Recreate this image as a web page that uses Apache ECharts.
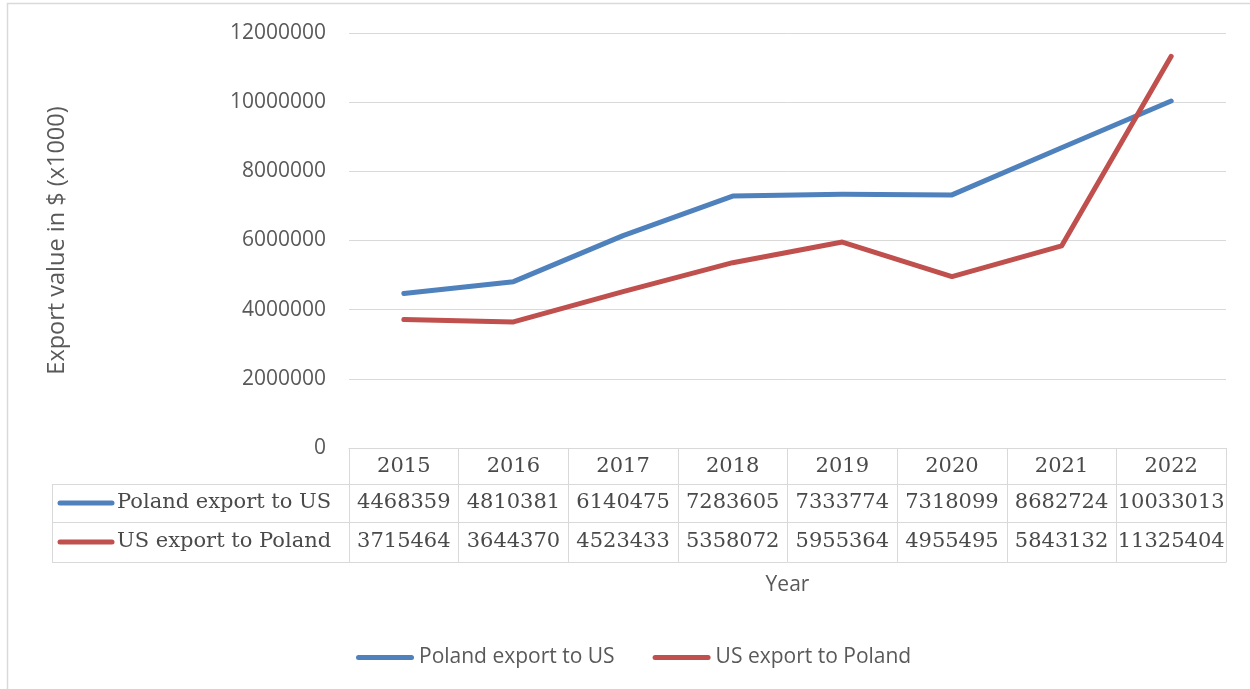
<!DOCTYPE html>
<html>
<head>
<meta charset="utf-8">
<script src="https://cdn.jsdelivr.net/npm/echarts@6/dist/echarts.min.js"></script>
<style>html,body{margin:0;padding:0;background:#fff}#c{width:1250px;height:689px}</style>
</head>
<body>
<div id="c"></div>
<script>
const years = ['2015','2016','2017','2018','2019','2020','2021','2022'];
const polandToUS = [4468359, 4810381, 6140475, 7283605, 7333774, 7318099, 8682724, 10033013];
const usToPoland = [3715464, 3644370, 4523433, 5358072, 5955364, 4955495, 5843132, 11325404];
const seriesNames = ['Poland export to US', 'US export to Poland'];
const colors = ['#4f81bd', '#c0504d'];
const yTicks = {min: 0, max: 12000000, interval: 2000000};

const chart = echarts.init(document.getElementById('c'), null, {renderer: 'canvas'});
const gridC = '#d9d9d9';
const serif = 'DejaVu Serif';
const sans = 'Open Sans';
const tableText = '#4a4a4a';
const tableLabel = {fontFamily: serif, fontSize: 21, color: tableText, interval: 0};

const linePath = 'path://M2.5,0 H55.5 A2.5,2.5 0 0 1 55.5,5 H2.5 A2.5,2.5 0 0 1 2.5,0 Z';

chart.setOption({
  animation: false,
  backgroundColor: '#fff',
  grid: {left: 349, right: 24, top: 33, bottom: 241, containLabel: false},
  legend: {
    data: seriesNames,
    bottom: 16,
    left: 351,
    icon: linePath,
    itemWidth: 58,
    itemHeight: 5,
    itemGap: 38,
    textStyle: {fontFamily: sans, fontSize: 21, color: '#595959'}
  },
  xAxis: [
    {
      type: 'category', data: years, position: 'bottom', offset: 0,
      axisLine: {show: true, lineStyle: {color: gridC, width: 1}},
      axisTick: {show: true, length: 114, lineStyle: {color: gridC, width: 1}},
      axisLabel: Object.assign({margin: 8}, tableLabel)
    },
    {
      type: 'category', data: polandToUS.map(String), position: 'bottom', offset: 36,
      axisLine: {show: true, lineStyle: {color: gridC, width: 1}},
      axisTick: {show: false},
      axisLabel: Object.assign({margin: 8}, tableLabel)
    },
    {
      type: 'category', data: usToPoland.map(String), position: 'bottom', offset: 74,
      axisLine: {show: true, lineStyle: {color: gridC, width: 1}},
      axisTick: {show: false},
      axisLabel: Object.assign({margin: 9}, tableLabel)
    },
    {
      type: 'category', data: years, position: 'bottom', offset: 114,
      axisLine: {show: true, lineStyle: {color: gridC, width: 1}},
      axisTick: {show: false},
      axisLabel: {show: false},
      name: 'Year', nameLocation: 'middle', nameGap: 13,
      nameTextStyle: {fontFamily: sans, fontSize: 21, color: '#595959', verticalAlign: 'top'}
    }
  ],
  yAxis: {
    type: 'value', min: yTicks.min, max: yTicks.max, interval: yTicks.interval,
    axisLine: {show: false}, axisTick: {show: false},
    axisLabel: {fontFamily: sans, fontSize: 21, color: '#595959', margin: 23,
      formatter: v => String(v)},
    splitLine: {lineStyle: {color: gridC, width: 1}},
    name: 'Export value in $ (x1000)', nameLocation: 'middle', nameGap: 280,
    nameTextStyle: {fontFamily: sans, fontSize: 23.5, color: '#595959'}
  },
  series: [
    {
      name: seriesNames[0], type: 'line', data: polandToUS, xAxisIndex: 0,
      symbol: 'none', smooth: false, color: colors[0],
      lineStyle: {width: 5, color: colors[0], cap: 'round', join: 'round'}
    },
    {
      name: seriesNames[1], type: 'line', data: usToPoland, xAxisIndex: 0,
      symbol: 'none', smooth: false, color: colors[1],
      lineStyle: {width: 5, color: colors[1], cap: 'round', join: 'round'}
    }
  ],
  graphic: [
    {type: 'rect', silent: true, shape: {x: 7.5, y: 3.5, width: 1270, height: 710},
      style: {fill: 'none', stroke: gridC, lineWidth: 1.5}},
    {type: 'line', silent: true, shape: {x1: 52, y1: 484.5, x2: 349, y2: 484.5}, style: {stroke: gridC, lineWidth: 1}},
    {type: 'line', silent: true, shape: {x1: 52, y1: 522.5, x2: 349, y2: 522.5}, style: {stroke: gridC, lineWidth: 1}},
    {type: 'line', silent: true, shape: {x1: 52, y1: 562.5, x2: 349, y2: 562.5}, style: {stroke: gridC, lineWidth: 1}},
    {type: 'line', silent: true, shape: {x1: 52.5, y1: 484, x2: 52.5, y2: 563}, style: {stroke: gridC, lineWidth: 1}},
    {type: 'line', silent: true, shape: {x1: 60, y1: 503, x2: 112, y2: 503},
      style: {stroke: colors[0], lineWidth: 5, lineCap: 'round'}},
    {type: 'line', silent: true, shape: {x1: 60, y1: 542, x2: 112, y2: 542},
      style: {stroke: colors[1], lineWidth: 5, lineCap: 'round'}},
    {type: 'text', silent: true, x: 117, y: 503,
      style: {text: seriesNames[0], font: '21px "DejaVu Serif"', fill: tableText, verticalAlign: 'middle'}},
    {type: 'text', silent: true, x: 117, y: 542,
      style: {text: seriesNames[1], font: '21px "DejaVu Serif"', fill: tableText, verticalAlign: 'middle'}}
  ]
});
</script>
</body>
</html>
